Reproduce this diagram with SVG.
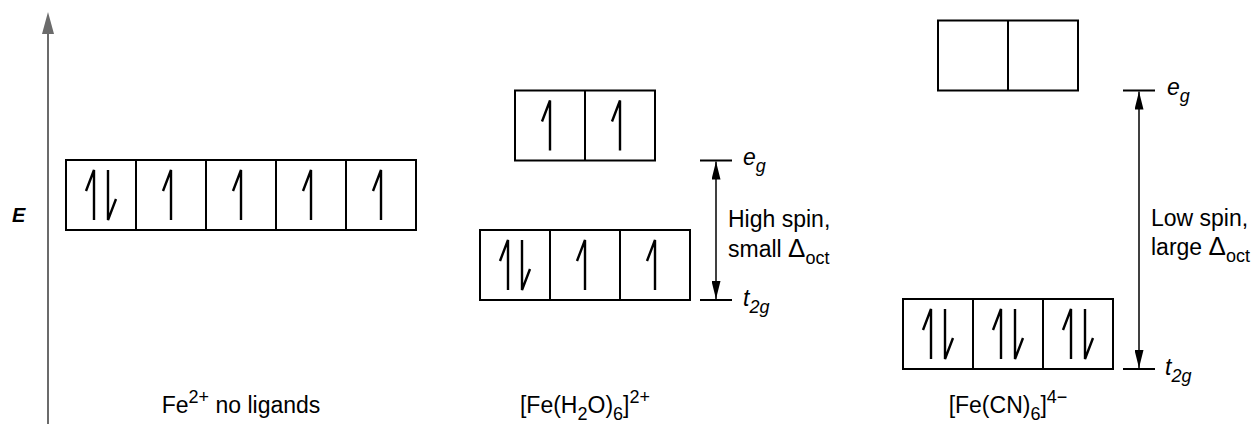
<svg xmlns="http://www.w3.org/2000/svg" width="1260" height="424" viewBox="0 0 1260 424">
<style>
.box{fill:#fff;stroke:#000;stroke-width:2}
.div{stroke:#000;stroke-width:2}
.e{fill:none;stroke:#000;stroke-width:2.4;stroke-linejoin:miter}
.t{font-family:"Liberation Sans",Arial,sans-serif;font-size:23px;fill:#000}
.it{font-style:italic}
.sm{font-size:18px}
.dl{font-size:26px}
.tick{stroke:#000;stroke-width:2}
.dbl{stroke:#000;stroke-width:1.5;marker-start:url(#ah);marker-end:url(#ah)}
</style>
<defs>
<marker id="ah" viewBox="0 0 18 9" refX="18" refY="4.5" markerWidth="18" markerHeight="9" markerUnits="userSpaceOnUse" orient="auto-start-reverse">
<path d="M0,0 L18,4.5 L0,9 z" fill="#000"/>
</marker>
<path id="up" class="e" d="M0,25 V-25 L-8,-4"/>
<path id="dn" class="e" d="M0,-25 V25 L8,4"/>
</defs>

<g id="energy-axis">
<line x1="48" y1="30" x2="48" y2="424" stroke="#6b6b6b" stroke-width="2"/>
<polygon points="48,12 42,34 54,34" fill="#6b6b6b"/>
<text x="12" y="222" class="t" style="font-size:20px;font-weight:bold;font-style:italic">E</text>
</g>

<g id="fe-free">
<rect class="box" x="66" y="160" width="350" height="70"/>
<line class="div" x1="136" y1="160" x2="136" y2="230"/>
<line class="div" x1="206" y1="160" x2="206" y2="230"/>
<line class="div" x1="276" y1="160" x2="276" y2="230"/>
<line class="div" x1="346" y1="160" x2="346" y2="230"/>
<use href="#up" x="94" y="195"/>
<use href="#dn" x="108" y="195"/>
<use href="#up" x="171" y="195"/>
<use href="#up" x="241" y="195"/>
<use href="#up" x="311" y="195"/>
<use href="#up" x="381" y="195"/>
<text class="t" x="241" y="413" text-anchor="middle">Fe<tspan class="sm" dy="-10">2+</tspan><tspan dy="10"> no ligands</tspan></text>
</g>

<g id="h2o-eg">
<rect class="box" x="515" y="90.5" width="140" height="70"/>
<line class="div" x1="585" y1="90.5" x2="585" y2="160.5"/>
<use href="#up" x="550" y="125.5"/>
<use href="#up" x="620" y="125.5"/>
</g>

<g id="h2o-t2g">
<rect class="box" x="480" y="230" width="210" height="70"/>
<line class="div" x1="550" y1="230" x2="550" y2="300"/>
<line class="div" x1="620" y1="230" x2="620" y2="300"/>
<use href="#up" x="508" y="265"/>
<use href="#dn" x="522" y="265"/>
<use href="#up" x="585" y="265"/>
<use href="#up" x="655" y="265"/>
<text class="t" x="585" y="413" text-anchor="middle">[Fe(H<tspan class="sm" dy="7">2</tspan><tspan dy="-7">O)</tspan><tspan class="sm" dy="7">6</tspan><tspan dy="-7">]</tspan><tspan class="sm" dy="-10">2+</tspan></text>
</g>

<g id="cn-eg">
<rect class="box" x="938" y="20.5" width="140" height="70"/>
<line class="div" x1="1008" y1="20.5" x2="1008" y2="90.5"/>
</g>

<g id="cn-t2g">
<rect class="box" x="903" y="299" width="210" height="70"/>
<line class="div" x1="973" y1="299" x2="973" y2="369"/>
<line class="div" x1="1043" y1="299" x2="1043" y2="369"/>
<use href="#up" x="931" y="334"/>
<use href="#dn" x="945" y="334"/>
<use href="#up" x="1001" y="334"/>
<use href="#dn" x="1015" y="334"/>
<use href="#up" x="1071" y="334"/>
<use href="#dn" x="1085" y="334"/>
<text class="t" x="1008" y="413" text-anchor="middle">[Fe(CN)<tspan class="sm" dy="7">6</tspan><tspan dy="-7">]</tspan><tspan class="sm" dy="-10">4−</tspan></text>
</g>

<g id="connectors">
<line class="tick" x1="700" y1="160.5" x2="732" y2="160.5"/>
<line class="tick" x1="700" y1="300" x2="732" y2="300"/>
<line class="dbl" x1="716" y1="161.5" x2="716" y2="299"/>
<line class="tick" x1="1123" y1="90.5" x2="1155" y2="90.5"/>
<line class="tick" x1="1123" y1="369" x2="1155" y2="369"/>
<line class="dbl" x1="1139" y1="91.5" x2="1139" y2="368"/>
</g>

<g id="h2o-split-labels">
<text class="t it" x="743" y="165">e<tspan class="sm" dy="7">g</tspan></text>
<text class="t it" x="743" y="306">t<tspan class="sm" dy="7">2g</tspan></text>
<text class="t" x="728" y="227">High spin,</text>
<text class="t" x="728" y="256.5">small <tspan class="dl">Δ</tspan><tspan class="sm" dy="7">oct</tspan></text>
</g>

<g id="cn-split-labels">
<text class="t it" x="1167" y="95">e<tspan class="sm" dy="7">g</tspan></text>
<text class="t it" x="1165" y="375">t<tspan class="sm" dy="7">2g</tspan></text>
<text class="t" x="1151" y="226">Low spin,</text>
<text class="t" x="1151" y="255">large <tspan class="dl">Δ</tspan><tspan class="sm" dy="7">oct</tspan></text>
</g>
</svg>
